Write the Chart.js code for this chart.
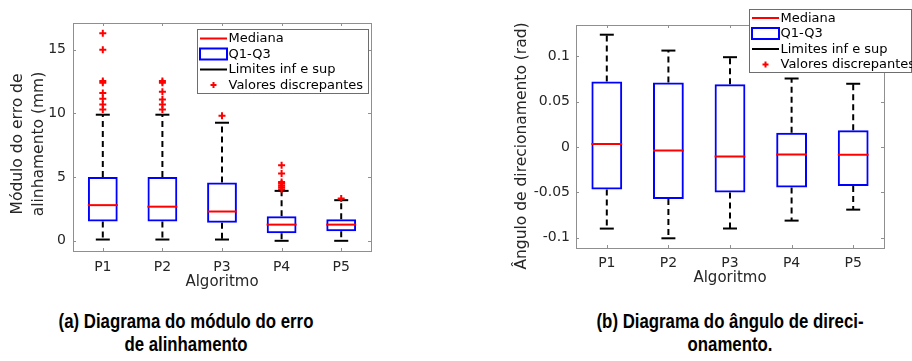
<!DOCTYPE html>
<html>
<head>
<meta charset="utf-8">
<script src="https://cdn.jsdelivr.net/npm/chart.js@4.4.1/dist/chart.umd.min.js"></script>
<style>
  html, body { margin: 0; padding: 0; background: #fff; }
  body { width: 912px; height: 361px; position: relative; overflow: hidden; }
  .painel { position: absolute; top: 0; width: 456px; height: 300px; }
  .painel canvas { display: block; }
  .legenda {
    position: absolute;
    width: 400px;
    font-family: "Liberation Sans", Arial, sans-serif;
    font-weight: bold;
    font-size: 20px;
    line-height: 23px;
    color: #000;
    text-align: center;
    white-space: nowrap;
    transform: scaleX(0.84);
    transform-origin: center top;
  }
</style>
</head>
<body>
<div class="painel" style="left:0"><canvas id="graficoErro" width="456" height="300"></canvas></div>
<div class="painel" style="left:456px"><canvas id="graficoAngulo" width="456" height="300"></canvas></div>
<div class="legenda" style="left:-14px; top:310px">(a) Diagrama do módulo do erro<br>de alinhamento</div>
<div class="legenda" style="left:530px; top:310px">(b) Diagrama do ângulo de direci-<br>onamento.</div>

<script>
// Dados
const algoritmos = ['P1', 'P2', 'P3', 'P4', 'P5'];

// (a) módulo do erro de alinhamento (mm)
const erroLimInf = [0.1, 0.1, 0.1, 0.0, 0.0];
const erroQ1 = [1.52, 1.52, 1.41, 0.6, 0.76];
const erroMediana = [2.8, 2.68, 2.3, 1.27, 1.27];
const erroQ3 = [5.0, 5.0, 4.57, 1.93, 1.69];
const erroLimSup = [9.9, 9.9, 9.27, 3.92, 3.19];
const erroDiscrepantes = [
  [10.3, 10.7, 11.15, 11.6, 12.4, 12.55, 15.0, 16.3],
  [10.3, 10.7, 11.1, 11.7, 12.4, 12.55],
  [9.82],
  [4.05, 4.2, 4.35, 4.5, 4.62, 5.28, 5.93],
  [3.32]
];
const erroTicksY = [0, 5, 10, 15];

// (b) ângulo de direcionamento (rad)
const anguloLimInf = [-0.0901, -0.1008, -0.0900, -0.0813, -0.0692];
const anguloQ1 = [-0.0469, -0.0576, -0.0502, -0.0447, -0.0432];
const anguloMediana = [0.0033, -0.0040, -0.0106, -0.0084, -0.0088];
const anguloQ3 = [0.0721, 0.0710, 0.0692, 0.0157, 0.0183];
const anguloLimSup = [0.1237, 0.1062, 0.0989, 0.0754, 0.0696];
const anguloDiscrepantes = [[], [], [], [], []];
const anguloTicksY = [-0.1, -0.05, 0, 0.05, 0.1];

const itensLegenda = ['Mediana', 'Q1-Q3', 'Limites inf e sup', 'Valores discrepantes'];

const FONTE = '"DejaVu Sans", Verdana, sans-serif';
const COR_TEXTO = '#262626';
const COR_MOLDURA = '#8f8f8f';

// moldura estilo MATLAB com marcas internas
const moldura = {
  id: 'moldura',
  afterDatasetsDraw(chart) {
    const { ctx, chartArea: a, scales } = chart;
    const t = 3;
    ctx.save();
    ctx.strokeStyle = COR_MOLDURA;
    ctx.lineWidth = 1;
    ctx.beginPath();
    scales.y.ticks.forEach((tk) => {
      const y = Math.round(scales.y.getPixelForValue(tk.value)) + 0.5;
      ctx.moveTo(a.left, y); ctx.lineTo(a.left + t, y);
      ctx.moveTo(a.right, y); ctx.lineTo(a.right - t, y);
    });
    scales.x.ticks.forEach((tk, i) => {
      const x = Math.round(scales.x.getPixelForTick(i)) + 0.5;
      ctx.moveTo(x, a.bottom); ctx.lineTo(x, a.bottom - t);
      ctx.moveTo(x, a.top); ctx.lineTo(x, a.top + t);
    });
    ctx.stroke();
    ctx.strokeRect(Math.round(a.left) + 0.5, Math.round(a.top) + 0.5,
      Math.round(a.right - a.left), Math.round(a.bottom - a.top));
    ctx.restore();
  }
};

// título do eixo y (girado), centrado como no original
const tituloY = {
  id: 'tituloY',
  afterDraw(chart, args, o) {
    const { ctx } = chart;
    ctx.save();
    ctx.fillStyle = COR_TEXTO;
    ctx.font = '15.5px ' + FONTE;
    ctx.textAlign = 'center';
    ctx.textBaseline = 'middle';
    o.linhas.forEach((txt, i) => {
      ctx.save();
      ctx.translate(o.x[i], o.y);
      ctx.rotate(-Math.PI / 2);
      ctx.fillText(txt, 0, 0);
      ctx.restore();
    });
    ctx.restore();
  }
};

// legenda desenhada à mão (caixa branca sobre o gráfico)
const legendaCaixa = {
  id: 'legendaCaixa',
  afterDraw(chart, args, opts) {
    const { ctx } = chart;
    const { x, y, w, h, linhas } = opts;
    ctx.save();
    ctx.fillStyle = '#fff';
    ctx.fillRect(x, y, w, h);
    ctx.strokeStyle = '#6e6e6e';
    ctx.lineWidth = 1;
    ctx.strokeRect(x + 0.5, y + 0.5, w - 1, h - 1);
    const s0 = x + 3, s1 = x + 30, tx = x + 31.5;
    ctx.font = '13px ' + FONTE;
    ctx.textBaseline = 'middle';
    ctx.textAlign = 'left';
    itensLegenda.forEach((txt, i) => {
      const yy = linhas[i];
      ctx.lineWidth = 2;
      if (i === 0 || i === 2) {
        ctx.strokeStyle = i === 0 ? '#ff0000' : '#000';
        ctx.beginPath(); ctx.moveTo(s0, yy); ctx.lineTo(s1, yy); ctx.stroke();
      } else if (i === 1) {
        ctx.strokeStyle = '#0000ff';
        ctx.strokeRect(s0, yy - 5.5, s1 - s0, 11);
      } else {
        const cx = (s0 + s1) / 2;
        ctx.strokeStyle = '#ff0000';
        ctx.beginPath();
        ctx.moveTo(cx - 3, yy); ctx.lineTo(cx + 3, yy);
        ctx.moveTo(cx, yy - 3); ctx.lineTo(cx, yy + 3);
        ctx.stroke();
      }
      ctx.fillStyle = '#000';
      ctx.fillText(txt, tx, yy + 0.5);
    });
    ctx.restore();
  }
};

function pontosPorCategoria(valores) {
  return valores.map((v, i) => ({ x: algoritmos[i], y: v }));
}

function criarGrafico(id, d, aj) {
  const whiskers = [];
  algoritmos.forEach((c, i) => {
    whiskers.push({ x: c, y: d.q3[i] }, { x: c, y: d.sup[i] }, { x: c, y: null });
    whiskers.push({ x: c, y: d.q1[i] }, { x: c, y: d.inf[i] }, { x: c, y: null });
  });
  const outliers = [];
  d.disc.forEach((lista, i) => lista.forEach((v) => outliers.push({ x: algoritmos[i], y: v })));

  new Chart(document.getElementById(id), {
    type: 'bar',
    data: {
      labels: algoritmos,
      datasets: [
        {
          type: 'line', label: 'Valores discrepantes', data: outliers, showLine: false,
          pointStyle: 'cross', pointRadius: 3.5, pointBorderWidth: 2,
          pointBorderColor: '#ff0000', pointBackgroundColor: '#ff0000'
        },
        {
          type: 'line', label: 'Mediana', data: pontosPorCategoria(d.med), showLine: false,
          pointStyle: 'line', pointRadius: aj.meiaCaixa, pointBorderWidth: 2,
          pointBorderColor: '#ff0000'
        },
        {
          type: 'line', label: 'Limites', data: pontosPorCategoria(d.inf).concat(pontosPorCategoria(d.sup)),
          showLine: false, pointStyle: 'line', pointRadius: 7, pointBorderWidth: 2,
          pointBorderColor: '#000'
        },
        {
          type: 'bar', label: 'Q1-Q3', data: d.q1.map((v, i) => [v, d.q3[i]]),
          backgroundColor: 'rgba(0,0,0,0)', borderColor: '#0000ff', borderWidth: 2,
          borderSkipped: false, categoryPercentage: 1, barPercentage: 0.5
        },
        {
          type: 'line', label: 'whiskers', data: whiskers, spanGaps: false,
          borderColor: '#000', borderWidth: 2, borderDash: [6, 4], pointRadius: 0
        }
      ]
    },
    options: {
      responsive: false,
      animation: false,
      events: [],
      layout: { padding: aj.padding },
      plugins: {
        legend: { display: false },
        tooltip: { enabled: false },
        tituloY: aj.titulo,
        legendaCaixa: aj.legenda
      },
      scales: {
        x: {
          grid: { display: false, drawTicks: false },
          border: { display: false },
          ticks: { color: COR_TEXTO, font: { family: FONTE, size: 14 }, padding: aj.padX },
          title: {
            display: true, text: 'Algoritmo', color: COR_TEXTO,
            font: { family: FONTE, size: 15 }, padding: { top: 0, bottom: aj.padTituloX }
          },
          afterFit: (s) => { s.height = 40; }
        },
        y: {
          min: aj.min, max: aj.max,
          grid: { display: false, drawTicks: false },
          border: { display: false },
          afterBuildTicks: (s) => { s.ticks = aj.ticks.map((v) => ({ value: v })); },
          ticks: {
            color: COR_TEXTO, font: { family: FONTE, size: 14 }, padding: aj.padY,
            callback: (v) => String(v)
          },
          afterFit: (s) => { s.width = aj.larguraY; }
        }
      }
    },
    plugins: [moldura, tituloY, legendaCaixa]
  });
}

criarGrafico('graficoErro',
  { inf: erroLimInf, q1: erroQ1, med: erroMediana, q3: erroQ3, sup: erroLimSup, disc: erroDiscrepantes },
  {
    min: -0.8, max: 17.1, ticks: erroTicksY,
    padding: { left: 0, right: 85, top: 23, bottom: 9 },
    larguraY: 73, padY: 7, padX: 8, padTituloX: 0, meiaCaixa: 15,
    titulo: { linhas: ['Módulo do erro de', 'alinhamento (mm)'], x: [18, 39], y: 144 },
    legenda: { x: 197, y: 29, w: 172, h: 65, linhas: [38.5, 54, 69.5, 85] }
  });

criarGrafico('graficoAngulo',
  { inf: anguloLimInf, q1: anguloQ1, med: anguloMediana, q3: anguloQ3, sup: anguloLimSup, disc: anguloDiscrepantes },
  {
    min: -0.1115, max: 0.1344, ticks: anguloTicksY,
    padding: { left: 48, right: 28, top: 25, bottom: 12 },
    larguraY: 72, padY: 6, padX: 7, padTituloX: 1, meiaCaixa: 15.4,
    titulo: { linhas: ['Ângulo de direcionamento (rad)'], x: [66], y: 146 },
    legenda: { x: 293, y: 9, w: 163, h: 64, linhas: [18, 33.5, 49, 64.5] }
  });
</script>
</body>
</html>
